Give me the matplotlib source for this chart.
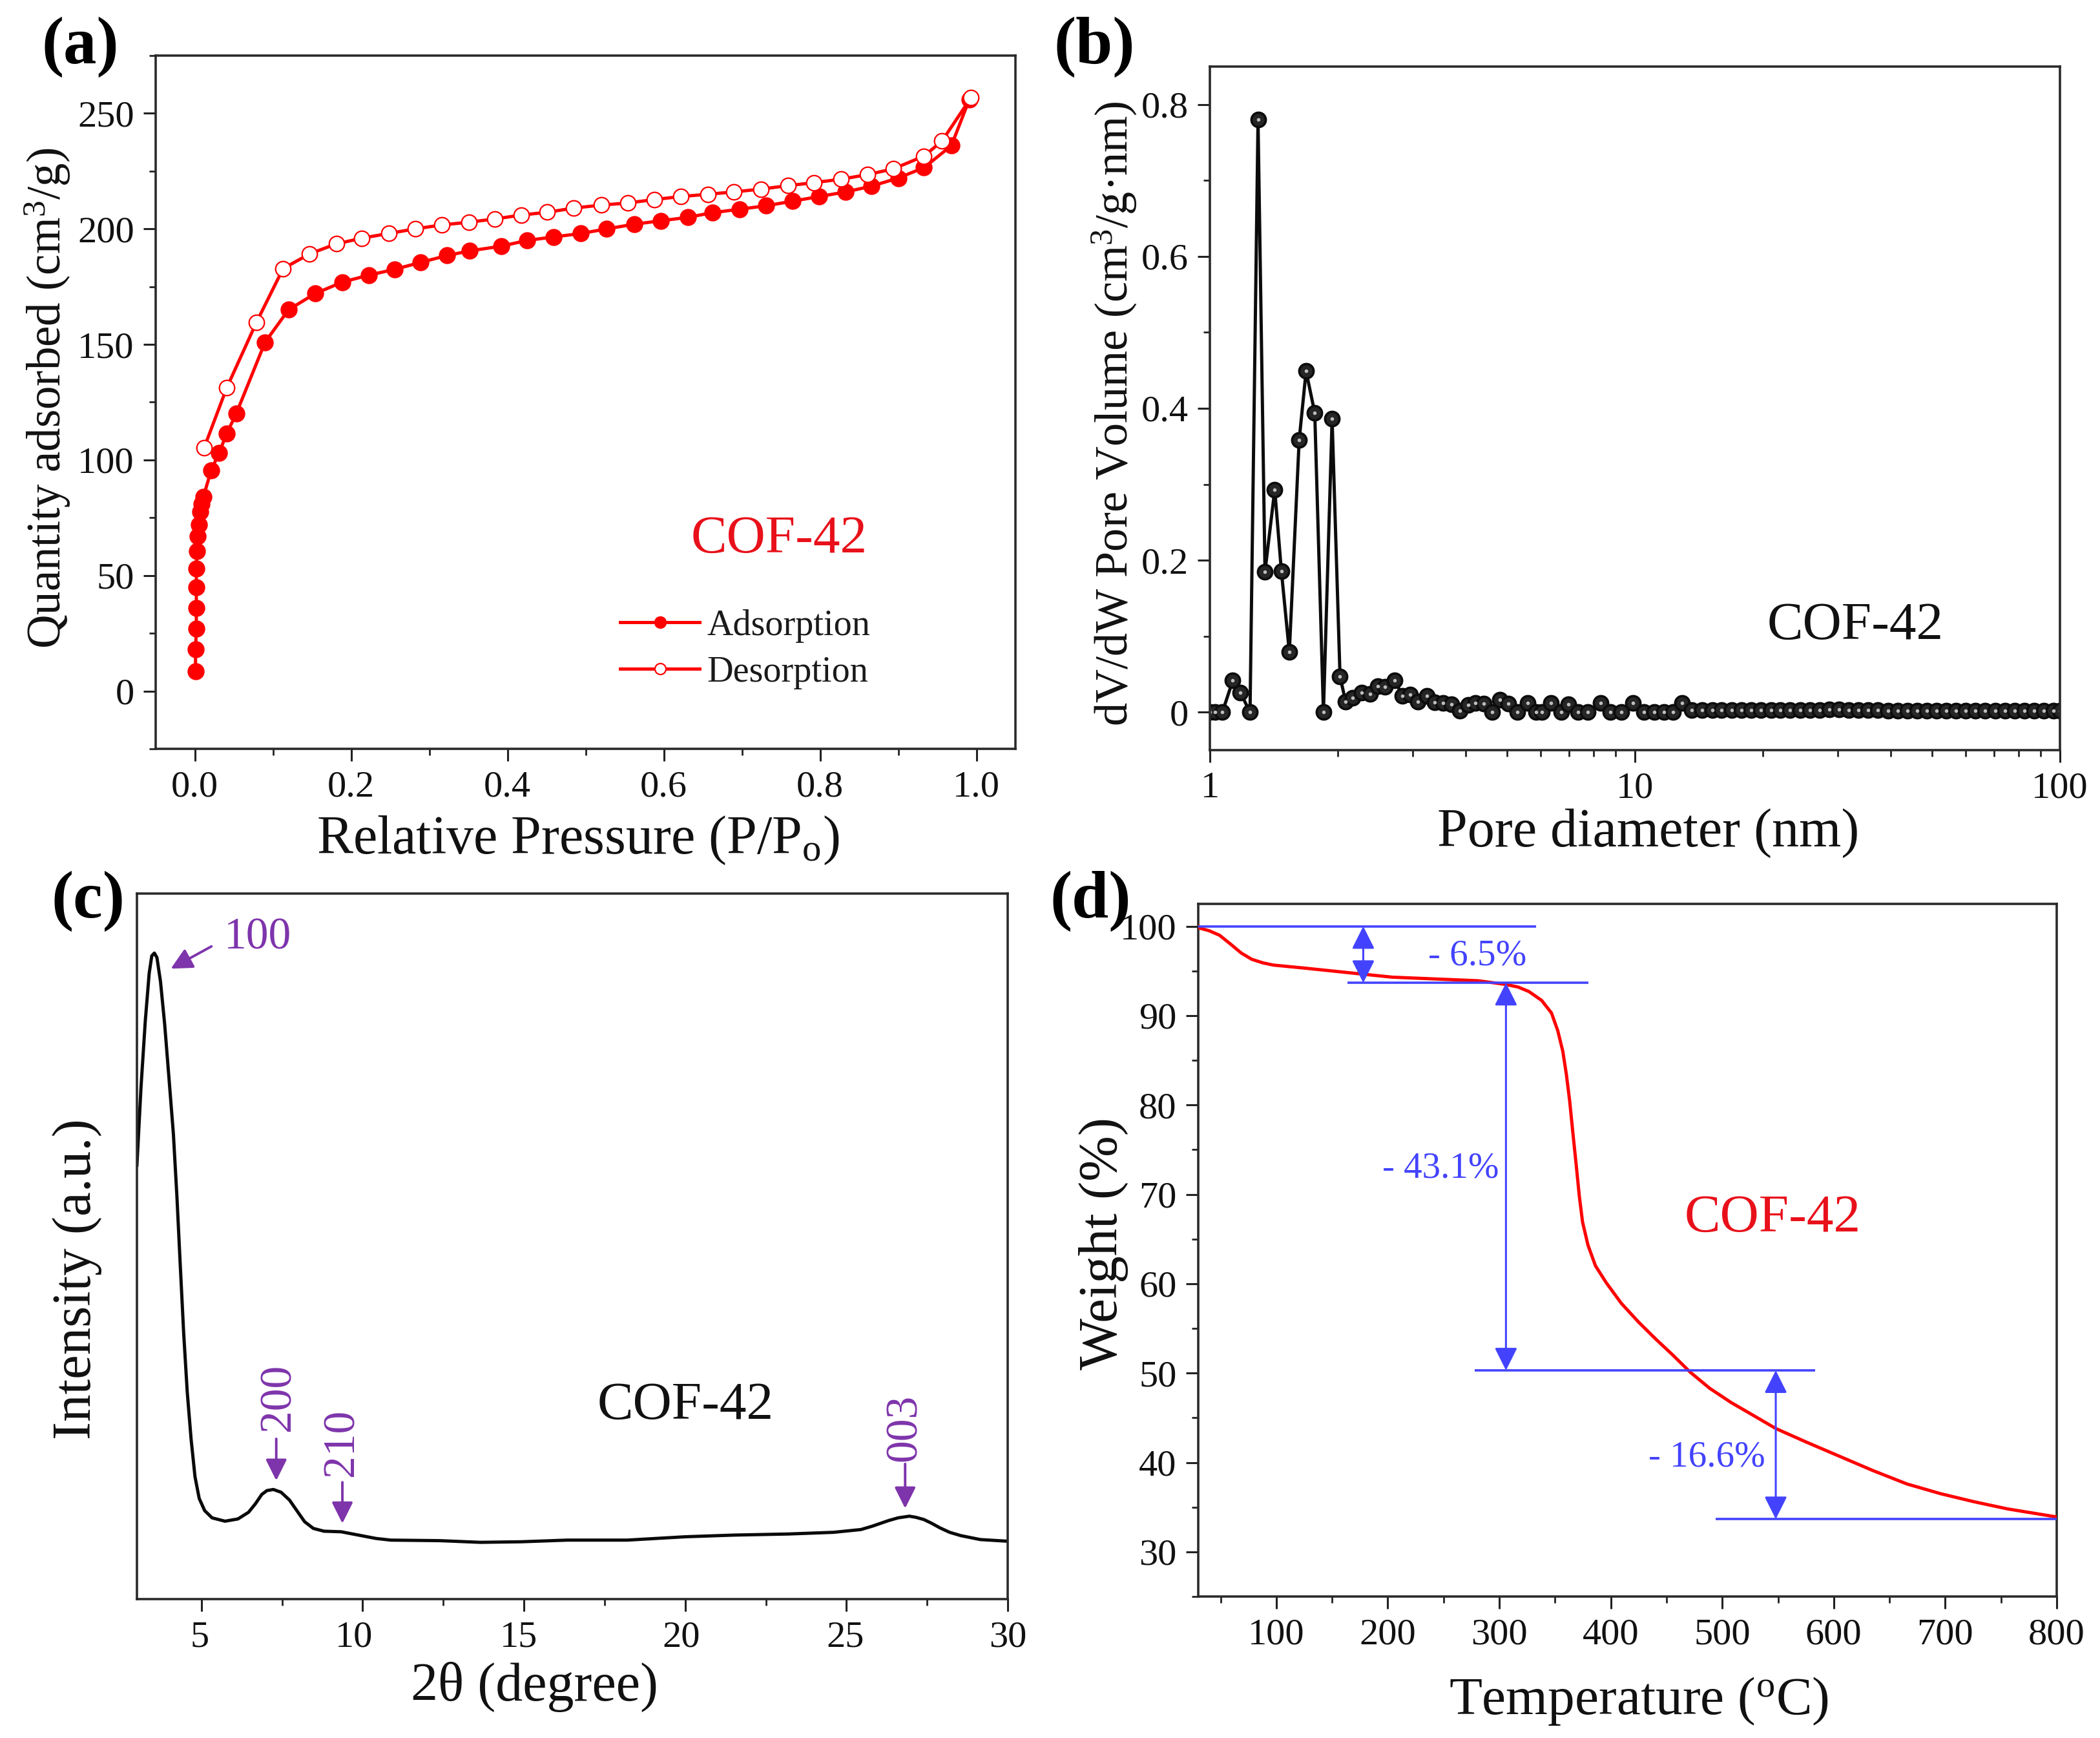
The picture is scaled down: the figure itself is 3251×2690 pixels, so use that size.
import matplotlib
matplotlib.use("Agg")
import matplotlib.pyplot as plt
from matplotlib.ticker import MultipleLocator, LogLocator, NullFormatter, FixedLocator, FixedFormatter
from matplotlib.transforms import ScaledTranslation

W, H = 3251, 2690
plt.rcParams['font.family'] = ['Liberation Serif', 'DejaVu Serif']
plt.rcParams['mathtext.fontset'] = 'custom'
plt.rcParams['mathtext.rm'] = 'Liberation Serif'
plt.rcParams['mathtext.it'] = 'Liberation Serif:italic'
plt.rcParams['mathtext.bf'] = 'Liberation Serif:bold'

# (a) isotherm
ads_p = [.001, .001, .002, .002, .002, .002, .0026, .004, .005, .007, .0085, .011, .021, .031, .041, .053, .09, .12,
         .154, .189, .223, .256, .289, .323, .352, .392, .425, .459, .494, .527, .562, .596, .631, .662, .697, .731,
         .765, .799, .833, .866, .900, .933, .968, .991]
ads_q = [8.5, 18, 27, 36, 45, 53, 60.5, 67, 72, 77.5, 81, 84, 95.5, 103, 111.5, 120, 151, 165,
         172, 177, 180, 182.5, 185.5, 188.5, 190.5, 192.5, 195, 196.5, 198, 200, 202, 203.5, 205, 207, 208.5, 210,
         212, 214, 216, 218.5, 222, 226.5, 236, 256]
des_p = [.993, .956, .933, .894, .861, .827, .792, .759, .724, .690, .657, .622, .588, .554, .520, .485, .451, .418,
         .384, .351, .316, .282, .248, .214, .181, .147, .113, .079, .041, .012]
des_q = [256.7, 238, 231.5, 226, 223.5, 221.5, 220, 218.7, 217.2, 216, 215, 214, 212.7, 211.2, 210.3, 209, 207.2, 206,
         204.3, 202.9, 201.7, 200, 198, 196, 193.5, 189.2, 182.8, 159.6, 131.3, 105.3]

# (b) pore size distribution
pore_d = [1.0, 1.03, 1.07, 1.132, 1.179, 1.243, 1.298, 1.348, 1.421, 1.473, 1.538, 1.622, 1.684, 1.765, 1.85, 1.939,
          2.024, 2.086, 2.167, 2.275, 2.385, 2.48, 2.58, 2.725, 2.84, 2.96, 3.09, 3.24, 3.38, 3.54, 3.70, 3.88, 4.05,
          4.22, 4.41, 4.62, 4.82, 5.04, 5.29, 5.6, 5.85, 6.05, 6.35, 6.7, 6.97, 7.35, 7.75, 8.3, 8.75, 9.3, 9.9,
          10.5, 11.1, 11.7, 12.3, 12.9, 13.6, 14.4, 15.2, 16.0, 16.9, 17.8, 18.8, 19.8, 20.9, 22.0, 23.2, 24.5, 25.8,
          27.2, 28.7, 30.2, 31.9, 33.6, 35.4, 37.3, 39.4, 41.5, 43.8, 46.1, 48.6, 51.3, 54.0, 57.0, 60.0, 63.3, 66.7,
          70.4, 74.2, 78.2, 82.4, 86.9, 91.6, 96.6, 100.0]
pore_v = [0, 0, 0, .0415, .026, 0, .78, .185, .293, .186, .079, .358, .449, .394, 0, .386,
          .047, .014, .019, .0255, .024, .034, .0335, .0415, .0215, .023, .0135, .0215, .013, .0125, .010, .002, .0095,
          .012, .011, 0, .016, .011, 0, .012, 0, 0, .012, 0, .01, 0, 0, .012, 0, 0, .012,
          0, 0, 0, 0, .012, .003, .003, .003, .003, .003, .003, .003, .003, .003, .003, .003, .003, .003,
          .003, .004, .004, .003, .003, .003, .003, .002, .002, .002, .002, .002, .002, .002, .002, .002, .002, .002,
          .002, .002, .002, .002, .002, .002, .002, .002]

# (c) XRD pattern
xrd_t = [3.0, 3.126, 3.26, 3.38, 3.46, 3.54, 3.62, 3.73, 3.86, 3.995, 4.13, 4.24, 4.34, 4.45, 4.56, 4.68, 4.80, 4.93,
         5.10, 5.33, 5.73, 6.13, 6.46, 6.67, 6.87, 7.03, 7.23, 7.47, 7.73, 7.97, 8.2, 8.47, 8.8, 9.33, 9.87, 10.41,
         10.87, 12.4, 13.65, 14.9, 16.35, 18.2, 20, 21.5, 23.2, 24.6, 25.45, 25.8, 26.05, 26.3, 26.6, 26.95, 27.15,
         27.4, 27.65, 27.9, 28.2, 28.55, 29.15, 30]
xrd_i = [780, 920, 1040, 1125, 1156, 1161, 1153, 1110, 1033, 935, 836, 723, 604, 477, 372, 287, 220, 181,
         159, 146, 140, 144, 156, 171, 188, 195, 197, 192, 178, 158, 139, 127, 122, 121, 115, 109,
         106, 105, 102, 103, 106, 106, 112, 115, 117, 120, 125, 131, 136, 141, 146, 149, 147,
         143, 136, 128, 120, 114, 107, 104]
xrd_ticks = [5, 10, 15, 20, 25, 30]
xrd_tick_shift = [-3, -13, -8, -6, -2, 0]
peak_labels = ['100', '200', '210', '003']

# (d) TGA
tga_t = [30, 31, 39.7, 49, 59, 68.6, 78, 88, 97.6, 126.6, 165, 204, 242.5, 281, 305.2, 316.8, 326.5, 338, 346.8, 352.5,
         357, 360.2, 363.1, 366, 369, 371.8, 374.7, 379.6, 386.3, 396, 409.5, 425, 440.4, 455.8, 471.3, 488.7, 508,
         527.4, 548, 575, 605, 635, 665.5, 696, 726, 756, 800]
tga_w = [100, 99.8, 99.5, 99, 98, 97, 96.3, 95.9, 95.65, 95.3, 94.8, 94.3, 94.1, 93.9, 93.5, 93.2, 92.7, 91.7, 90.3, 88.3,
         86, 83.4, 80.5, 76.9, 73.3, 69.8, 66.9, 64.3, 62, 60.1, 57.8, 55.7, 53.8, 52, 50.1, 48.3, 46.7,
         45.3, 43.8, 42.3, 40.7, 39.1, 37.6, 36.5, 35.6, 34.8, 33.9]
step_levels = [100, 93.66, 50.3, 33.66]
step_labels = ['- 6.5%', '- 43.1%', '- 16.6%']

TICK = 42
LAB = 60.5
BLUE = '#4343ff'
PURPLE = '#7e34ab'

fig = plt.figure(figsize=(W / 100, H / 100), dpi=100, facecolor='white')


def make_ax(l, r, t, b):
    ax = fig.add_axes([l / W, 1 - b / H, (r - l) / W, (b - t) / H])
    for s in ax.spines.values():
        s.set_linewidth(2.6)
        s.set_color('#2a2a2a')
    ax.tick_params(which='major', length=14, width=2.2, labelsize=TICK, pad=10, color='#222222', labelcolor='#111111')
    ax.tick_params(which='minor', length=7, width=2.0, color='#222222')
    return ax


def ftext(x, y, s, **kw):
    kw.setdefault('ha', 'center')
    kw.setdefault('va', 'center')
    kw.setdefault('color', '#111111')
    return fig.text(x / W, 1 - y / H, s, **kw)


# ---------- (a)
ax = make_ax(241, 1572, 86, 1159)
ax.plot(ads_p, ads_q, '-o', color='red', lw=3.6, ms=18, label='Adsorption')
ax.plot(des_p, des_q, '-o', color='red', lw=3.6, ms=17, mfc='white', mew=1.6, label='Desorption')
ax.set_xlim(-0.05, 1.05)
ax.set_ylim(-25, 275)
ax.xaxis.set_major_locator(MultipleLocator(0.2))
ax.xaxis.set_minor_locator(MultipleLocator(0.1))
ax.yaxis.set_major_locator(MultipleLocator(50))
ax.yaxis.set_minor_locator(MultipleLocator(25))
ax.text(0.748, 65.5, 'COF-42', color='#e8101a', fontsize=60, ha='center', va='center')
leg = ax.legend(loc='upper left', bbox_to_anchor=(0.54, 0.2015), frameon=False, fontsize=40.5, handlelength=2.2,
                handletextpad=0.2, labelspacing=0.36, borderpad=0, borderaxespad=0, markerscale=0.72)
for t in leg.get_texts():
    t.set_color('#1a1a1a')
ftext(895, 1301, 'Relative Pressure (P/P$_{\\mathrm{o}}$)', fontsize=LAB)
ftext(73, 616, 'Quantity adsorbed (cm$^{3}$/g)', fontsize=52.5, rotation=90)
ftext(124, 73, '(a)', fontsize=74, fontweight='bold', color='black')

# ---------- (b)
ax = make_ax(1873, 3189, 103, 1161)
ax.set_xscale('log')
ax.plot(pore_d, pore_v, '-o', color='#0c0c0c', lw=3.6, ms=16, mfc='#262626', mec='#0c0c0c', mew=2.6)
ax.plot(pore_d, pore_v, 'o', color='#bdbdbd', ms=4, mew=0)
ax.set_xlim(1, 100)
ax.set_ylim(-0.05, 0.85)
ax.xaxis.set_major_locator(FixedLocator([1, 10, 100]))
ax.xaxis.set_major_formatter(FixedFormatter(['1', '10', '100']))
ax.xaxis.set_minor_locator(LogLocator(base=10, subs=range(2, 10), numticks=12))
ax.xaxis.set_minor_formatter(NullFormatter())
ax.yaxis.set_minor_locator(MultipleLocator(0.1))
ax.set_yticks([0, .2, .4, .6, .8], ['0', '0.2', '0.4', '0.6', '0.8'])
ax.text(33, 0.113, 'COF-42', color='#111111', fontsize=60, ha='center', va='center')
ftext(2552, 1290, 'Pore diameter (nm)', fontsize=LAB)
ftext(1725, 640, 'dV/dW Pore Volume (cm$^{3}$/g·nm)', fontsize=52, rotation=90)
ftext(1694, 73, '(b)', fontsize=74, fontweight='bold', color='black')

# ---------- (c)
ax = make_ax(212, 1560, 1383, 2475)
ax.plot(xrd_t, xrd_i, '-', color='#0a0a0a', lw=3.6)
ax.set_xlim(3, 30)
ax.set_ylim(0, 1268)
ax.xaxis.set_major_locator(FixedLocator(xrd_ticks))
ax.xaxis.set_major_formatter(FixedFormatter([str(v) for v in xrd_ticks]))
ax.xaxis.set_minor_locator(MultipleLocator(2.5))
ax.set_yticks([])
for tick, dx in zip(ax.xaxis.get_major_ticks(), xrd_tick_shift):
    tick.label1.set_transform(tick.label1.get_transform() + ScaledTranslation(dx / 100, 0, fig.dpi_scale_trans))
ap = dict(arrowstyle='-|>', color=PURPLE, lw=2.8, mutation_scale=50, shrinkA=0, shrinkB=0)
ax.annotate('', xy=(4.05, 1133), xytext=(5.31, 1173), arrowprops=ap)
ax.annotate('', xy=(7.32, 213), xytext=(7.32, 288), arrowprops=ap)
ax.annotate('', xy=(9.37, 136), xytext=(9.37, 210), arrowprops=ap)
ax.annotate('', xy=(26.82, 163), xytext=(26.82, 243), arrowprops=ap)
ax.text(6.74, 1188, peak_labels[0], color=PURPLE, fontsize=50, ha='center', va='center')
ax.text(7.4, 362, peak_labels[1], color=PURPLE, fontsize=50, ha='center', va='center', rotation=90)
ax.text(9.37, 281, peak_labels[2], color=PURPLE, fontsize=50, ha='center', va='center', rotation=90)
ax.text(26.82, 308, peak_labels[3], color=PURPLE, fontsize=50, ha='center', va='center', rotation=90)
ax.text(20, 347, 'COF-42', color='#111111', fontsize=60, ha='center', va='center')
ftext(827, 2611, '2θ (degree)', fontsize=LAB)
ftext(120, 1980, 'Intensity (a.u.)', fontsize=61, rotation=90)
ftext(137, 1395, '(c)', fontsize=74, fontweight='bold', color='black')

# ---------- (d)
ax = make_ax(1855, 3184, 1399, 2471)
ax.set_xlim(30, 800)
ax.set_ylim(25, 102.5)
ax.xaxis.set_major_locator(MultipleLocator(100))
ax.xaxis.set_minor_locator(MultipleLocator(50))
ax.yaxis.set_minor_locator(MultipleLocator(5))
ax.set_yticks([30, 40, 50, 60, 70, 80, 90, 100])
ax.plot(tga_t, tga_w, '-', color='red', lw=3.6, zorder=3)
ax.hlines(step_levels[0], 30, 333, color=BLUE, lw=2.6, zorder=4)
ax.hlines(step_levels[1], 164, 380, color=BLUE, lw=2.6, zorder=4)
ax.hlines(step_levels[2], 278, 583.5, color=BLUE, lw=2.6, zorder=4)
ax.hlines(step_levels[3], 494, 800, color=BLUE, lw=2.6, zorder=4)
ap2 = dict(arrowstyle='<|-|>', color=BLUE, lw=2.2, mutation_scale=54, shrinkA=0, shrinkB=0)
ax.annotate('', xy=(178, step_levels[0]), xytext=(178, step_levels[1]), arrowprops=ap2, zorder=5)
ax.annotate('', xy=(306, step_levels[1]), xytext=(306, step_levels[2]), arrowprops=ap2, zorder=5)
ax.annotate('', xy=(548, step_levels[2]), xytext=(548, step_levels[3]), arrowprops=ap2, zorder=5)
ax.text(280.5, 96.65, step_labels[0], color=BLUE, fontsize=41, ha='center', va='center')
ax.text(247.7, 72.9, step_labels[1], color=BLUE, fontsize=41, ha='center', va='center')
ax.text(486, 40.6, step_labels[2], color=BLUE, fontsize=41, ha='center', va='center')
ax.text(545, 67.3, 'COF-42', color='#e8101a', fontsize=60, ha='center', va='center')
ftext(2537, 2633, 'Temperature ($^{\\mathrm{o}}$C)', fontsize=60)
ftext(1708, 1924, 'Weight (%)', fontsize=61, rotation=90)
ftext(1688, 1395, '(d)', fontsize=74, fontweight='bold', color='black')

fig.savefig('out.png', dpi=100, facecolor='white')
